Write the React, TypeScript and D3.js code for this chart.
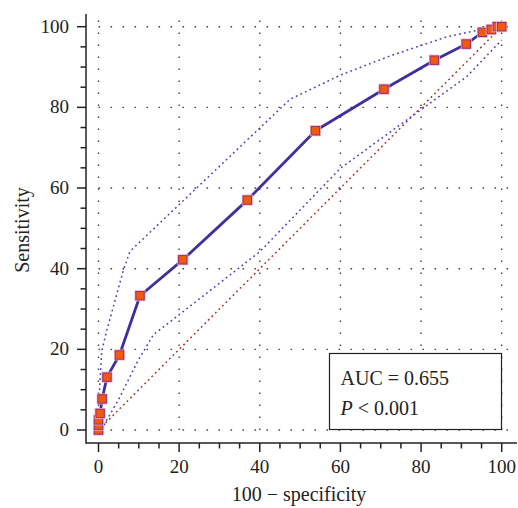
import * as d3 from 'd3'

// ROC curve points: [100 - specificity, sensitivity]
const rocX = [0, 0, 0, 0.4, 0.9, 2.1, 5.2, 10.3, 20.9, 36.9, 53.8, 70.8, 83.3, 91.2, 95.2, 97.4, 98.9, 100]
const rocY = [0, 1.2, 2.5, 4.1, 7.7, 13.1, 18.6, 33.3, 42.2, 57.0, 74.2, 84.5, 91.7, 95.7, 98.6, 99.3, 100, 100]

// 95% confidence bounds
const upperX = [0, 0.2, 0.8, 2.0, 4.9, 6.2, 7.8, 47.5, 60, 73, 86.4, 96.3, 100]
const upperY = [0, 9, 19.5, 24.5, 35, 39.7, 44.3, 82, 88, 93, 97.5, 99.6, 100]
const lowerX = [1.0, 1.6, 4.9, 9.9, 13.6, 40, 60, 79.8, 91.3, 100]
const lowerY = [0, 1.7, 7.4, 17.4, 23.6, 44.2, 64.9, 79.3, 87.6, 96.7]

const diagX = [0, 100]
const diagY = [0, 100]

const majorTicks = [0, 20, 40, 60, 80, 100]
const minorTicks = d3.range(0, 101, 5).filter(v => v % 20 !== 0)

const aucText = 'AUC = 0.655'
const xTitle = '100 − specificity'
const yTitle = 'Sensitivity'

const W = 518
const H = 508
const FONT = '"Liberation Serif", "Times New Roman", serif'
const INK = '#222'

export default function App() {
  const x = d3.scaleLinear().domain([0, 100]).range([98.5, 501.7])
  const y = d3.scaleLinear().domain([0, 100]).range([430, 26.7])

  const axisX = 86
  const axisY = 443

  const line = d3.line<[number, number]>().x(d => x(d[0])).y(d => y(d[1]))
  const zip = (a: number[], b: number[]) => a.map((v, i) => [v, b[i]] as [number, number])

  const roc = zip(rocX, rocY)

  return (
    <svg width={W} height={H} style={{ position: 'absolute', left: 0, top: 0, background: '#fff' }} fontFamily={FONT}>
      {/* grid */}
      {majorTicks.map(v => (
        <g key={'g' + v}>
          <line x1={x(v)} x2={x(v)} y1={y(0)} y2={y(101.7)} stroke="#444" strokeWidth={1.4} strokeDasharray="1.6,10.4" />
          <line x1={x(0)} x2={x(101.6)} y1={y(v)} y2={y(v)} stroke="#444" strokeWidth={1.4} strokeDasharray="1.6,10.4" />
        </g>
      ))}

      {/* axes */}
      <line x1={axisX} x2={axisX} y1={14} y2={axisY + 0.75} stroke={INK} strokeWidth={1.5} />
      <line x1={axisX} x2={517} y1={axisY} y2={axisY} stroke={INK} strokeWidth={1.5} />
      {majorTicks.map(v => (
        <g key={'t' + v}>
          <line x1={axisX - 9} x2={axisX} y1={y(v)} y2={y(v)} stroke={INK} strokeWidth={1.5} />
          <text x={axisX - 17} y={y(v) + 6} textAnchor="end" fontSize={19} fill={INK}>{v}</text>
          <line x1={x(v)} x2={x(v)} y1={axisY} y2={axisY + 9} stroke={INK} strokeWidth={1.5} />
          <text x={x(v)} y={473} textAnchor="middle" fontSize={19} fill={INK}>{v}</text>
        </g>
      ))}
      {minorTicks.map(v => (
        <g key={'m' + v}>
          <line x1={axisX - 5.5} x2={axisX} y1={y(v)} y2={y(v)} stroke={INK} strokeWidth={1.5} />
          <line x1={x(v)} x2={x(v)} y1={axisY} y2={axisY + 5.5} stroke={INK} strokeWidth={1.5} />
        </g>
      ))}

      {/* titles */}
      <text x={299} y={501} textAnchor="middle" fontSize={20} fill={INK}>{xTitle}</text>
      <text transform="translate(29,230) rotate(-90)" textAnchor="middle" fontSize={20} fill={INK}>{yTitle}</text>

      {/* reference diagonal and confidence bounds */}
      <path d={line(zip(diagX, diagY)) ?? ''} fill="none" stroke="#a8302c" strokeWidth={1.5} strokeDasharray="1.8,3.2" />
      <path d={line(zip(upperX, upperY)) ?? ''} fill="none" stroke="#4a3cc0" strokeWidth={1.5} strokeDasharray="1.8,3.2" />
      <path d={line(zip(lowerX, lowerY)) ?? ''} fill="none" stroke="#4a3cc0" strokeWidth={1.5} strokeDasharray="1.8,3.2" />

      {/* ROC curve */}
      <path d={line(roc) ?? ''} fill="none" stroke="#40309c" strokeWidth={2.8} strokeLinejoin="round" />
      {roc.map((d, i) => (
        <g key={'p' + i}>
          <rect x={x(d[0]) - 5.5} y={y(d[1]) - 5.5} width={11} height={11} fill="#e8b2cc" />
          <rect x={x(d[0]) - 4.2} y={y(d[1]) - 4.2} width={8.4} height={8.4} fill="#f05a0a" stroke="#a02c6c" strokeWidth={1} />
        </g>
      ))}

      {/* annotation box */}
      <rect x={329.5} y={353.5} width={172} height={76} fill="#fff" stroke={INK} strokeWidth={1.2} />
      <text x={340.5} y={385} fontSize={20} fill={INK}>{aucText}</text>
      <text x={340.5} y={415} fontSize={20} fill={INK}>
        <tspan fontStyle="italic">P</tspan>
        <tspan> &lt; 0.001</tspan>
      </text>
    </svg>
  )
}
